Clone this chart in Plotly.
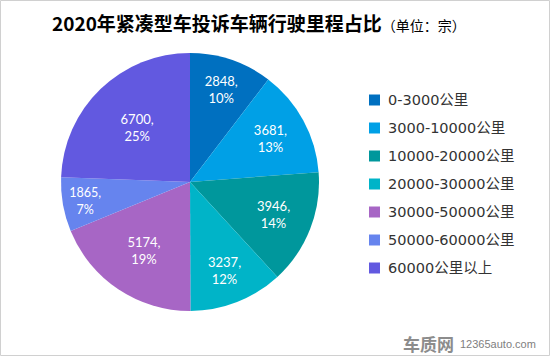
import plotly.graph_objects as go

categories = ["0-3000公里", "3000-10000公里", "10000-20000公里", "20000-30000公里",
              "30000-50000公里", "50000-60000公里", "60000公里以上"]
values = [2848, 3681, 3946, 3237, 5174, 1865, 6700]
percent_labels = ["10%", "13%", "14%", "12%", "19%", "7%", "25%"]
colors = ["#0070C0", "#00A0E6", "#00979C", "#00B4C8", "#A766C5", "#6684EE", "#6259E0"]

W, H = 550, 356
texts = [f"{v},<br>{p}" for v, p in zip(values, percent_labels)]

fig = go.Figure()
fig.add_trace(go.Pie(
    labels=categories, values=values, text=texts,
    texttemplate="%{text}", textposition="inside",
    insidetextorientation="horizontal",
    textfont=dict(color="white", size=13, family="Lato, Noto Sans CJK SC"),
    marker=dict(colors=colors, line=dict(width=0)),
    sort=False, direction="clockwise", rotation=0,
    domain=dict(x=[61 / W, 319 / W], y=[1 - 311 / H, 1 - 53 / H]),
    showlegend=False, hoverinfo="label+value",
))

shapes = [dict(type="rect", xref="paper", yref="paper", x0=0.5 / W, x1=1 - 0.5 / W,
               y0=0.5 / H, y1=1 - 0.5 / H, line=dict(color="#D0D0D0", width=1))]
annotations = []
for i, (cat, col) in enumerate(zip(categories, colors)):
    yc = 100 + i * 28
    shapes.append(dict(type="rect", xref="paper", yref="paper",
                       x0=369 / W, x1=380 / W, y0=1 - (yc + 5.5) / H, y1=1 - (yc - 5.5) / H,
                       fillcolor=col, line=dict(width=0)))
    annotations.append(dict(x=386 / W, y=1 - yc / H, xref="paper", yref="paper",
                            text=cat, showarrow=False, xanchor="left", yanchor="middle",
                            font=dict(size=14.5, color="#333333", family="DejaVu Sans, Noto Sans CJK SC")))

annotations.append(dict(x=259 / W, y=1 - 23 / H, xref="paper", yref="paper", showarrow=False,
                        xanchor="center", yanchor="middle",
                        text="<b>2020年紧凑型车投诉车辆行驶里程占比</b><span style='font-size:14px'>（单位：宗）</span>",
                        font=dict(size=19, color="#000000", family="Noto Sans CJK SC")))
annotations.append(dict(x=456 / W, y=1 - 343 / H, xref="paper", yref="paper", showarrow=False,
                        xanchor="right", yanchor="middle", text="<b>车质网</b>",
                        font=dict(size=17, color="#8C8C8C", family="Noto Sans CJK SC")))
annotations.append(dict(x=458 / W, y=1 - 344 / H, xref="paper", yref="paper", showarrow=False,
                        xanchor="left", yanchor="middle", text="12365auto.com",
                        font=dict(size=11, color="#808080", family="Liberation Sans")))

fig.update_layout(width=W, height=H, margin=dict(l=0, r=0, t=0, b=0),
                  paper_bgcolor="white", plot_bgcolor="white",
                  shapes=shapes, annotations=annotations)
fig.write_html("out.html", config={"displayModeBar": False},
               post_script="document.body.style.margin='0';")
